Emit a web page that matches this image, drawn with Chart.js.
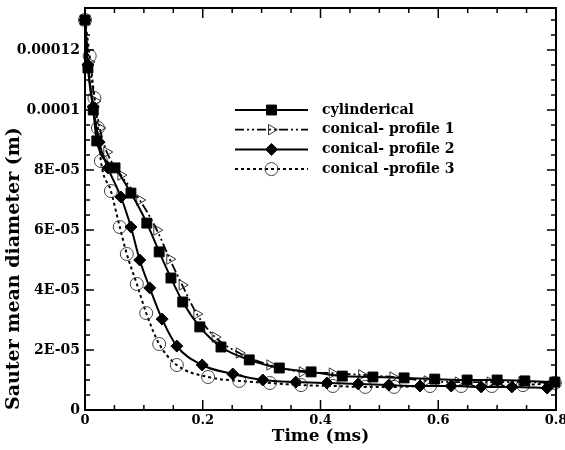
<!DOCTYPE html>
<html lang="en">
<head>
  <meta charset="UTF-8">
  <title>Sauter mean diameter vs time</title>
  <script src="https://cdn.jsdelivr.net/npm/chart.js"></script>
  <style>
    html, body { margin: 0; padding: 0; background: #fff; }
    .wrap { width: 565px; height: 450px; }
  </style>
</head>
<body>
<div class="wrap">
  <canvas id="sauterChart" width="565" height="450"></canvas>
</div>

<script>
  // values: time in ms, diameter in m
  const cylTime = [0, 0.005, 0.014, 0.020, 0.051, 0.078, 0.105, 0.126, 0.146, 0.166, 0.195, 0.231, 0.279, 0.330, 0.384, 0.437, 0.489, 0.542, 0.594, 0.649, 0.700, 0.747, 0.798];
  const cylDiam = [1.30e-4, 1.14e-4, 1.00e-4, 8.97e-5, 8.07e-5, 7.23e-5, 6.23e-5, 5.27e-5, 4.40e-5, 3.60e-5, 2.77e-5, 2.10e-5, 1.67e-5, 1.40e-5, 1.27e-5, 1.13e-5, 1.10e-5, 1.07e-5, 1.03e-5, 1.00e-5, 1.00e-5, 0.97e-5, 0.93e-5];

  const p1Time = [0, 0.007, 0.017, 0.025, 0.037, 0.061, 0.093, 0.122, 0.144, 0.165, 0.190, 0.221, 0.262, 0.314, 0.369, 0.420, 0.470, 0.523, 0.581, 0.634, 0.688, 0.742, 0.798];
  const p1Diam = [1.30e-4, 1.16e-4, 1.03e-4, 9.40e-5, 8.60e-5, 7.83e-5, 7.00e-5, 6.00e-5, 5.03e-5, 4.17e-5, 3.20e-5, 2.43e-5, 1.90e-5, 1.50e-5, 1.27e-5, 1.23e-5, 1.17e-5, 1.10e-5, 0.97e-5, 0.93e-5, 0.93e-5, 0.93e-5, 0.90e-5];

  const p2Time = [0, 0.005, 0.014, 0.024, 0.039, 0.061, 0.078, 0.093, 0.110, 0.131, 0.156, 0.199, 0.251, 0.302, 0.358, 0.411, 0.464, 0.516, 0.569, 0.622, 0.673, 0.725, 0.785];
  const p2Diam = [1.30e-4, 1.15e-4, 1.01e-4, 8.93e-5, 8.07e-5, 7.10e-5, 6.10e-5, 5.00e-5, 4.07e-5, 3.03e-5, 2.13e-5, 1.50e-5, 1.20e-5, 1.00e-5, 0.93e-5, 0.90e-5, 0.87e-5, 0.83e-5, 0.80e-5, 0.80e-5, 0.77e-5, 0.77e-5, 0.73e-5];

  const p3Time = [0, 0.008, 0.016, 0.022, 0.027, 0.044, 0.059, 0.071, 0.088, 0.104, 0.126, 0.156, 0.209, 0.262, 0.314, 0.367, 0.421, 0.476, 0.525, 0.586, 0.639, 0.691, 0.744, 0.798];
  const p3Diam = [1.30e-4, 1.18e-4, 1.04e-4, 9.40e-5, 8.30e-5, 7.30e-5, 6.10e-5, 5.20e-5, 4.20e-5, 3.23e-5, 2.20e-5, 1.50e-5, 1.10e-5, 0.97e-5, 0.90e-5, 0.83e-5, 0.80e-5, 0.77e-5, 0.77e-5, 0.80e-5, 0.80e-5, 0.80e-5, 0.83e-5, 0.90e-5];

  const seriesNames = ['cylinderical', 'conical- profile 1', 'conical- profile 2', 'conical -profile 3'];

  const xTickVals = [0, 0.2, 0.4, 0.6, 0.8];
  const xTickLabels = ['0', '0.2', '0.4', '0.6', '0.8'];
  const yTickVals = [0, 2e-5, 4e-5, 6e-5, 8e-5, 1e-4, 1.2e-4];
  const yTickLabels = ['0', '2E-05', '4E-05', '6E-05', '8E-05', '0.0001', '0.00012'];

  const pairs = (xs, ys) => xs.map((x, i) => ({ x: x, y: ys[i] }));

  Chart.defaults.font.family = '"DejaVu Serif", serif';
  Chart.defaults.font.weight = 'bold';
  Chart.defaults.color = '#000';

  // box with inward ticks on all four sides
  const framePlugin = {
    id: 'frame',
    afterDatasetsDraw(chart) {
      const { ctx, chartArea: a, scales: { x, y } } = chart;
      ctx.save();
      ctx.strokeStyle = '#000';
      ctx.lineWidth = 1.5;
      ctx.beginPath();
      for (let i = 0; i <= 16; i++) {
        const px = x.getPixelForValue(i * 0.05);
        const len = i % 4 === 0 ? 10 : 5;
        ctx.moveTo(px, a.bottom); ctx.lineTo(px, a.bottom - len);
        ctx.moveTo(px, a.top); ctx.lineTo(px, a.top + len);
      }
      for (let i = 0; i <= 26; i++) {
        const py = y.getPixelForValue(i * 5e-6);
        const len = i % 4 === 0 ? 9 : 5;
        ctx.moveTo(a.left, py); ctx.lineTo(a.left + len, py);
        ctx.moveTo(a.right, py); ctx.lineTo(a.right - len, py);
      }
      ctx.stroke();
      ctx.lineWidth = 2;
      ctx.strokeRect(a.left, a.top, a.right - a.left, a.bottom - a.top);
      ctx.restore();
    }
  };

  // legend drawn as line + marker like the original
  const legendPlugin = {
    id: 'lineLegend',
    afterDraw(chart) {
      const ctx = chart.ctx;
      ctx.save();
      chart.data.datasets.forEach((ds, i) => {
        const yy = 110 + i * 19.7;
        ctx.strokeStyle = ds.borderColor;
        ctx.lineWidth = ds.borderWidth;
        ctx.setLineDash(ds.borderDash || []);
        ctx.beginPath();
        ctx.moveTo(235, yy);
        ctx.lineTo(308, yy);
        ctx.stroke();
        ctx.setLineDash([]);
        ctx.fillStyle = ds.pointBackgroundColor;
        ctx.strokeStyle = ds.pointBorderColor;
        ctx.lineWidth = ds.pointBorderWidth;
        Chart.helpers.drawPoint(ctx, {
          pointStyle: ds.pointStyle,
          radius: ds.pointRadius,
          rotation: ds.pointRotation || 0,
          borderWidth: ds.pointBorderWidth
        }, 271.5, yy);
        ctx.fillStyle = '#000';
        ctx.font = 'bold 14px "DejaVu Serif", serif';
        ctx.textBaseline = 'middle';
        ctx.textAlign = 'left';
        ctx.fillText(ds.label, 322, yy);
      });
      ctx.restore();
    }
  };

  const ctx = document.getElementById('sauterChart').getContext('2d');
  const sauterChart = new Chart(ctx, {
    type: 'line',
    data: {
      datasets: [
        {
          label: seriesNames[0],
          data: pairs(cylTime, cylDiam),
          order: 1,
          borderColor: '#000',
          borderWidth: 2,
          pointStyle: 'rect',
          pointRadius: 7,
          pointBackgroundColor: '#000',
          pointBorderColor: '#000',
          pointBorderWidth: 1
        },
        {
          label: seriesNames[1],
          data: pairs(p1Time, p1Diam),
          order: 2,
          borderColor: '#000',
          borderWidth: 1.8,
          borderDash: [9, 3, 2, 3, 2, 3],
          pointStyle: 'triangle',
          pointRotation: 90,
          pointRadius: 6,
          pointBackgroundColor: 'rgba(255,255,255,0)',
          pointBorderColor: '#333',
          pointBorderWidth: 1
        },
        {
          label: seriesNames[2],
          data: pairs(p2Time, p2Diam),
          order: 0,
          borderColor: '#000',
          borderWidth: 2,
          pointStyle: 'rectRot',
          pointRadius: 6,
          pointBackgroundColor: '#000',
          pointBorderColor: '#000',
          pointBorderWidth: 1
        },
        {
          label: seriesNames[3],
          data: pairs(p3Time, p3Diam),
          order: 3,
          borderColor: '#000',
          borderWidth: 2,
          borderDash: [3, 3],
          pointStyle: 'circle',
          pointRadius: 6.5,
          pointBackgroundColor: 'rgba(255,255,255,0)',
          pointBorderColor: '#444',
          pointBorderWidth: 1
        }
      ]
    },
    options: {
      responsive: false,
      animation: false,
      clip: false,
      cubicInterpolationMode: 'monotone',
      layout: { padding: { top: 8, right: 9, left: 0, bottom: 0 } },
      plugins: {
        legend: { display: false },
        tooltip: { enabled: false }
      },
      scales: {
        x: {
          type: 'linear',
          min: 0,
          max: 0.8,
          afterBuildTicks: axis => { axis.ticks = xTickVals.map(v => ({ value: v })); },
          afterFit: axis => {
            axis.height = 40;
            axis.paddingLeft = 0;
            axis.paddingRight = 0;
          },
          ticks: {
            autoSkip: false,
            maxRotation: 0,
            padding: 3,
            font: { size: 13, weight: 'bold' },
            callback: (v, i) => xTickLabels[i]
          },
          grid: { display: false, drawTicks: false },
          border: { display: false },
          title: {
            display: true,
            text: 'Time (ms)',
            font: { size: 17, weight: 'bold' },
            padding: { top: 0, bottom: 3 }
          }
        },
        y: {
          type: 'linear',
          min: 0,
          max: 1.34e-4,
          afterBuildTicks: axis => { axis.ticks = yTickVals.map(v => ({ value: v })); },
          afterFit: axis => {
            axis.width = 85;
            axis.paddingTop = 0;
            axis.paddingBottom = 0;
          },
          ticks: {
            autoSkip: false,
            padding: 5,
            font: { size: 14, weight: 'bold' },
            callback: (v, i) => yTickLabels[i]
          },
          grid: { display: false, drawTicks: false },
          border: { display: false },
          title: {
            display: true,
            text: 'Sauter mean diameter (m)',
            align: 'start',
            font: { size: 19, weight: 'bold' },
            padding: { top: 3, bottom: 0 }
          }
        }
      }
    },
    plugins: [framePlugin, legendPlugin]
  });
</script>
</body>
</html>
